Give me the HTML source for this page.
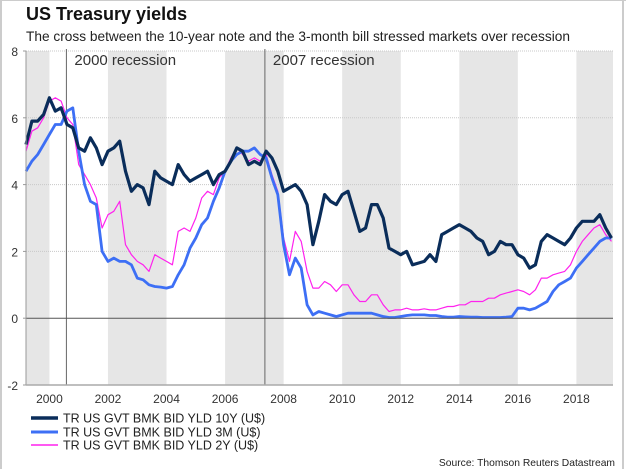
<!DOCTYPE html>
<html><head><meta charset="utf-8"><style>
body{margin:0;background:#fff;font-family:"Liberation Sans",sans-serif;}
#wrap{position:relative;width:626px;height:469px;overflow:hidden;}
</style></head><body>
<div id="wrap">
<svg id="chart" width="626" height="469" style="position:absolute;left:0;top:0;font-family:'Liberation Sans',sans-serif">
<line x1="1" y1="0" x2="1" y2="469" stroke="#bbb" stroke-width="1.5"/>
<line x1="623" y1="0" x2="623" y2="469" stroke="#bbb" stroke-width="1.5"/>
<line x1="0" y1="0.5" x2="626" y2="0.5" stroke="#ccc" stroke-width="1"/>
<text x="26" y="20" font-size="18" font-weight="bold" fill="#111">US Treasury yields</text>
<text x="26" y="41" font-size="13.7" fill="#222">The cross between the 10-year note and the 3-month bill stressed markets over recession</text>
<g id="bands"></g><g id="grid"></g><g id="rec"></g><g id="series"></g><g id="axes"></g>
<g>
<line x1="31" y1="418" x2="58" y2="418" stroke="#0a2d5a" stroke-width="3.5"/>
<text x="63" y="422.5" font-size="12.5" fill="#222">TR US GVT BMK BID YLD 10Y (U$)</text>
<line x1="31" y1="432" x2="58" y2="432" stroke="#3d6ff5" stroke-width="3"/>
<text x="63" y="436.5" font-size="12.5" fill="#222">TR US GVT BMK BID YLD 3M (U$)</text>
<line x1="31" y1="445" x2="58" y2="445" stroke="#ff22ee" stroke-width="1.5"/>
<text x="63" y="449.5" font-size="12.5" fill="#222">TR US GVT BMK BID YLD 2Y (U$)</text>
</g>
<text x="615" y="466" font-size="10.3" fill="#222" text-anchor="end">Source: Thomson Reuters Datastream</text>
</svg>
</div>
<script>
const yTicks=[-2,0,2,4,6,8];
const xTicks=[2000,2002,2004,2006,2008,2010,2012,2014,2016,2018];
const bandRanges=[[1999.2,2000],[2002,2004],[2006,2008],[2010,2012],[2014,2016],[2018,2019.25]];
const recessions=[[2000.58,"2000 recession"],[2007.36,"2007 recession"]];
const startYear=1999.2, stepYear=0.2;
const y10=[5.2,5.9,5.9,6.1,
6.6,6.2,6.3,5.8,5.7, 5.1,5.0,5.4,5.1,4.6, 5.0,5.1,5.3,4.4,3.8, 4.0,3.9,3.4,4.4,4.2,
4.1,4.0,4.6,4.3,4.1, 4.2,4.3,4.4,4.0,4.3, 4.4,4.7,5.1,5.0,4.6, 4.7,4.6,5.0,4.8,4.4,
3.8,3.9,4.0,3.8,3.4, 2.2,2.9,3.7,3.5,3.4, 3.7,3.8,3.2,2.6,2.7, 3.4,3.4,3.0,2.1,2.0,
1.9,2.0,1.6,1.65,1.7, 1.9,1.7,2.5,2.6,2.7, 2.8,2.7,2.6,2.4,2.3, 1.9,2.0,2.3,2.2,2.2,
1.9,1.8,1.5,1.6,2.3, 2.5,2.4,2.3,2.2,2.4, 2.7,2.9,2.9,2.9,3.1, 2.7,2.4];
const y3m=[4.4,4.7,4.9,5.2,
5.5,5.8,5.8,6.2,6.3, 5.0,4.0,3.5,3.4,2.0, 1.7,1.8,1.7,1.7,1.6, 1.2,1.15,1.0,0.95,0.93,
0.9,0.95,1.3,1.6,2.1, 2.4,2.8,3.0,3.5,3.9, 4.4,4.7,4.9,5.0,5.0, 5.1,4.9,4.8,4.2,3.7,
2.2,1.3,1.8,1.5,0.4, 0.1,0.2,0.15,0.1,0.05, 0.1,0.15,0.15,0.15,0.15, 0.15,0.1,0.05,0.02,0.02,
0.05,0.08,0.1,0.1,0.1, 0.08,0.08,0.05,0.03,0.03, 0.05,0.04,0.03,0.03,0.02, 0.02,0.02,0.02,0.03,0.05,
0.3,0.3,0.25,0.3,0.4, 0.5,0.8,1.0,1.1,1.2, 1.5,1.7,1.9,2.1,2.3, 2.4,2.4];
const y2=[5.0,5.6,5.7,6.0,
6.5,6.6,6.5,6.0,5.8, 4.6,4.3,4.0,3.6,2.7, 3.1,3.2,3.5,2.2,1.9, 1.7,1.6,1.4,1.9,1.8,
1.7,1.6,2.6,2.7,2.6, 3.0,3.6,3.8,3.7,4.2, 4.4,4.8,5.1,4.9,4.7, 4.8,4.7,4.9,4.3,3.8,
2.4,1.7,2.6,2.3,1.4, 0.9,0.9,1.1,1.0,0.8, 1.0,1.0,0.7,0.5,0.5, 0.7,0.7,0.4,0.2,0.25,
0.25,0.3,0.25,0.25,0.28, 0.25,0.25,0.3,0.35,0.35, 0.4,0.4,0.5,0.5,0.5, 0.6,0.6,0.7,0.75,0.8,
0.85,0.8,0.7,0.85,1.2, 1.2,1.3,1.35,1.4,1.6, 2.0,2.3,2.5,2.7,2.8, 2.5,2.3];
const NS="http://www.w3.org/2000/svg";
const L=26,R=613,T=51,B=385,X0=1999.2,X1=2019.25;
const xs=v=>L+(v-X0)/(X1-X0)*(R-L);
const ys=v=>B-(v+2)/10*(B-T);
function mk(tag,at,parent){const e=document.createElementNS(NS,tag);for(const k in at)e.setAttribute(k,at[k]);document.getElementById(parent).appendChild(e);return e;}
bandRanges.forEach(b=>{const r=mk('rect',{x:xs(b[0]),y:T,width:xs(b[1])-xs(b[0]),height:B-T,fill:'#e6e6e6'},'bands');

});
yTicks.forEach(t=>{
 if(t>0){const g=mk('line',{x1:L,x2:R,y1:ys(t),y2:ys(t),stroke:'#c8c8c8','stroke-dasharray':'1,1'},'grid');
 
 }
 const tx=mk('text',{x:18,y:ys(t)+5,'font-size':12,fill:'#333','text-anchor':'end'},'axes');tx.textContent=t;
 
 
 const tk=mk('line',{x1:L-3,x2:L,y1:ys(t),y2:ys(t),stroke:'#999'},'axes');
 
 
});
xTicks.forEach(t=>{const tx=mk('text',{x:xs(t),y:403,'font-size':12,fill:'#333','text-anchor':'middle'},'axes');tx.textContent=t;
 
 });
recessions.forEach(r=>{const l=mk('line',{x1:xs(r[0]),x2:xs(r[0]),y1:T-2,y2:B,stroke:'#666'},'rec');
 
 
 const tx=mk('text',{x:xs(r[0])+8,y:65,'font-size':15,fill:'#333'},'rec');tx.textContent=r[1];
 
 });
const zl=mk('line',{x1:L,x2:R,y1:ys(0),y2:ys(0),stroke:'#555'},'axes');


const ax=mk('line',{x1:L,x2:L,y1:T,y2:B,stroke:'#999'},'axes');


const bx=mk('line',{x1:L,x2:R,y1:B,y2:B,stroke:'#aaa','stroke-width':1.5},'axes');


function line(vals,color,w,name){const d=vals.map((v,i)=>(i?'L':'M')+xs(startYear+i*stepYear).toFixed(1)+','+ys(v).toFixed(1)).join('');
 const p=mk('path',{d:d,fill:'none',stroke:color,'stroke-width':w,'stroke-linejoin':'round'},'series');
 
 }
line(y2,'#ff22ee',1.2,'series-2y');
line(y3m,'#3d6ff5',2.8,'series-3m');
line(y10,'#0a2d5a',3.2,'series-10y');
</script>
</body></html>
